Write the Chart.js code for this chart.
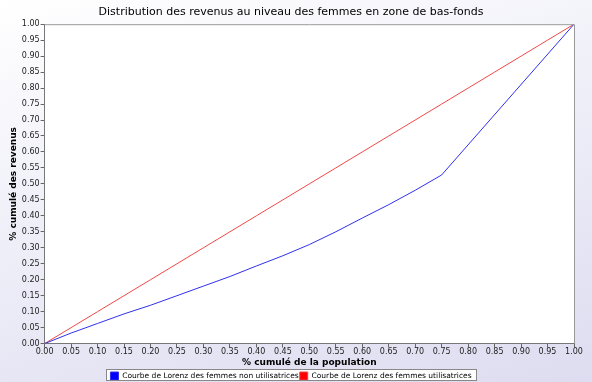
<!DOCTYPE html>
<html><head><meta charset="utf-8">
<script src="https://cdn.jsdelivr.net/npm/chart.js@4"></script>
<style>
html,body{margin:0;padding:0;}
body{width:592px;height:382px;background:linear-gradient(165deg,#ffffff 0%,#f2f2fa 35%,#dedcf0 100%);}
#wrap{width:592px;height:382px;position:relative;}
</style></head><body>
<div id="wrap"><canvas id="c" width="592" height="382"></canvas></div>
<script>
const titleText = "Distribution des revenus au niveau des femmes en zone de bas-fonds";
const xTitle = "% cumulé de la population";
const yTitle = "% cumulé des revenus";
const seriesNames = ["Courbe de Lorenz des femmes non utilisatrices", "Courbe de Lorenz des femmes utilisatrices"];
const blueX = [0, 0.05, 0.10, 0.15, 0.20, 0.25, 0.30, 0.35, 0.40, 0.45, 0.50, 0.55, 0.60, 0.65, 0.70, 0.75, 1.00];
const blueY = [0, 0.033, 0.063, 0.093, 0.12, 0.15, 0.18, 0.21, 0.243, 0.275, 0.31, 0.35, 0.393, 0.435, 0.48, 0.528, 1.00];
const redX = [0, 0.05, 0.10, 0.15, 0.20, 0.25, 0.30, 0.35, 0.40, 0.45, 0.50, 0.55, 0.60, 0.65, 0.70, 0.75, 0.80, 0.85, 0.90, 0.95, 1.00];
const redY = [0, 0.05, 0.10, 0.15, 0.20, 0.25, 0.30, 0.35, 0.40, 0.45, 0.50, 0.55, 0.60, 0.65, 0.70, 0.75, 0.80, 0.85, 0.90, 0.95, 1.00];

function legendRect(chart){
  const lg = chart.legend;
  if (!(lg && lg.legendHitBoxes && lg.legendHitBoxes.length)) return null;
  const hb = lg.legendHitBoxes;
  const l = hb[0].left - 4, r = hb[hb.length-1].left + hb[hb.length-1].width + 4;
  const t = hb[0].top - 3, b = Math.min(hb[0].top + hb[0].height + 1, chart.height - 2);
  return {l:Math.round(l), t:Math.round(t), r:Math.round(r), b:Math.round(b)};
}
const plotBg = {
  id:'plotBg',
  beforeDraw(chart){
    const {ctx, chartArea:a} = chart;
    ctx.save();
    ctx.fillStyle='#ffffff';
    ctx.fillRect(a.left,a.top,a.right-a.left,a.bottom-a.top);
    const lr = legendRect(chart);
    if (lr){ ctx.fillRect(lr.l, lr.t, lr.r-lr.l, lr.b-lr.t); }
    ctx.restore();
  },
  afterDraw(chart){
    const {ctx, chartArea:a} = chart;
    ctx.save();
    ctx.strokeStyle='#999999';
    ctx.lineWidth=1;
    ctx.beginPath();
    ctx.moveTo(a.left, a.top+0.5); ctx.lineTo(a.right+0.5, a.top+0.5); ctx.lineTo(a.right+0.5, a.bottom);
    ctx.stroke();
    const lr = legendRect(chart);
    if (lr){
      ctx.strokeStyle='#888888';
      ctx.strokeRect(lr.l+0.5, lr.t+0.5, lr.r-lr.l, lr.b-lr.t);
    }
    ctx.restore();
  }
};

const tickFont = {family:'"DejaVu Sans", sans-serif', size:8};
const fmt = v => Number(v).toFixed(2);

new Chart(document.getElementById('c'), {
  type:'scatter',
  data:{
    datasets:[
      {label:seriesNames[0], data:blueX.map((x,i)=>({x, y:blueY[i]})), showLine:true, borderColor:'#3030ee', backgroundColor:'#0000ff', borderWidth:1, pointRadius:0, tension:0},
      {label:seriesNames[1], data:redX.map((x,i)=>({x, y:redY[i]})), showLine:true, borderColor:'#f04848', backgroundColor:'#ff0000', borderWidth:1, pointRadius:0, tension:0}
    ]
  },
  options:{
    responsive:false, animation:false, devicePixelRatio:1,
    layout:{padding:{left:8, right:18, top:5, bottom:-8}},
    plugins:{
      title:{display:true, text:titleText, color:'#000', font:{family:'"DejaVu Sans", sans-serif', size:11, weight:'normal'}, padding:{top:1, bottom:5}},
      legend:{position:'bottom', labels:{boxWidth:8, boxHeight:8, color:'#000', font:{family:'"DejaVu Sans", sans-serif', size:7.5}, padding:1}},
      tooltip:{enabled:false}
    },
    scales:{
      x:{type:'linear', min:0, max:1,
        ticks:{stepSize:0.05, callback:fmt, font:tickFont, color:'#222', maxRotation:0, autoSkip:false, padding:0},
        grid:{drawOnChartArea:false, drawTicks:true, tickLength:4, color:'#666'},
        border:{color:'#777'},
        title:{display:true, text:xTitle, color:'#000', font:{family:'"DejaVu Sans", sans-serif', size:9, weight:'bold'}, padding:{top:0,bottom:3}}
      },
      y:{type:'linear', min:0, max:1,
        ticks:{stepSize:0.05, callback:fmt, font:tickFont, color:'#222', autoSkip:false, padding:1},
        grid:{drawOnChartArea:false, drawTicks:true, tickLength:4, color:'#666'},
        border:{color:'#777'},
        title:{display:true, text:yTitle, color:'#000', font:{family:'"DejaVu Sans", sans-serif', size:9, weight:'bold'}, padding:{top:0,bottom:2}}
      }
    }
  },
  plugins:[plotBg]
});
</script>
</body></html>
